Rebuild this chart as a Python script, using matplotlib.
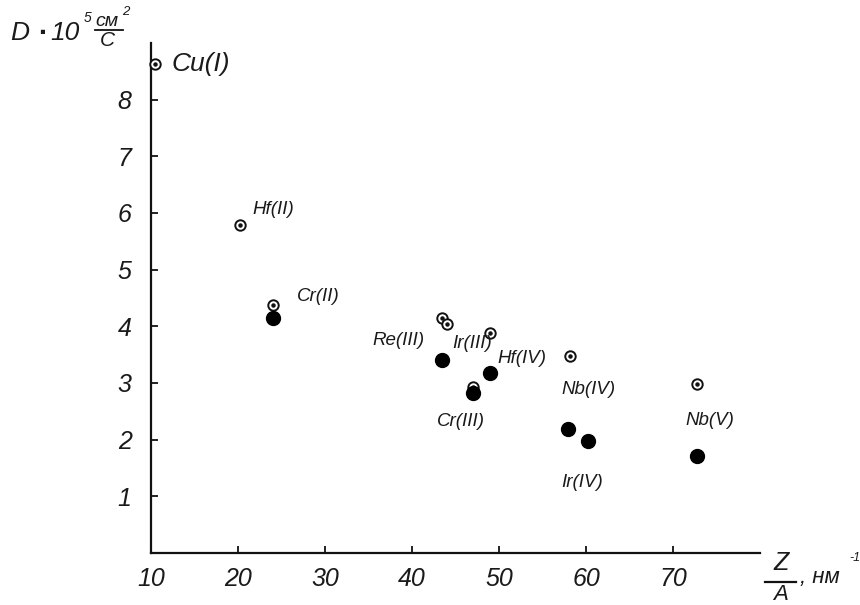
import matplotlib
matplotlib.use("Agg")
import matplotlib.pyplot as plt

# ---- data ----
open_x = [10.5, 20.2, 24.0, 43.4, 44.0, 49.0, 47.0, 58.2, 72.8]
open_y = [8.63, 5.79, 4.37, 4.14, 4.04, 3.89, 2.93, 3.47, 2.98]
filled_x = [24.0, 43.4, 49.0, 47.0, 57.9, 60.2, 72.8]
filled_y = [4.14, 3.40, 3.18, 2.82, 2.18, 1.98, 1.72]
label_text = ["Hf(II)", "Cr(II)", "Re(III)", "Ir(III)", "Hf(IV)", "Cr(III)", "Nb(IV)", "Ir(IV)", "Nb(V)"]
label_x = [21.7, 26.8, 35.4, 44.6, 49.8, 42.9, 57.2, 57.2, 71.4]
label_y = [6.07, 4.53, 3.75, 3.70, 3.44, 2.32, 2.89, 1.25, 2.33]
big_label = "Cu(I)"
big_label_xy = (12.4, 8.63)
x_ticks = [10, 20, 30, 40, 50, 60, 70]
y_ticks = [1, 2, 3, 4, 5, 6, 7, 8]

W, H = 860, 605
FAM = ["Liberation Sans", "DejaVu Sans"]
TXT = "#1a1a1a"

fig = plt.figure(figsize=(W / 100, H / 100), dpi=100)
left_px, right_px, top_px, bot_px = 151, 760, 43, 553
ax = fig.add_axes([left_px / W, 1 - bot_px / H, (right_px - left_px) / W, (bot_px - top_px) / H])
ax.set_xlim(10, 80)
ax.set_ylim(0, 9)
for s in ("top", "right"):
    ax.spines[s].set_visible(False)
for s in ("left", "bottom"):
    ax.spines[s].set_linewidth(1.6)
    ax.spines[s].set_color("#111111")
ax.set_xticks(x_ticks)
ax.set_yticks(y_ticks)
ax.tick_params(axis="both", direction="in", length=5, width=1.3, colors="#111111",
               labelsize=18, labelcolor=TXT)
ax.tick_params(axis="x", pad=10)
ax.tick_params(axis="y", pad=14)
for lab in ax.get_xticklabels() + ax.get_yticklabels():
    lab.set_fontstyle("italic")
    lab.set_family(FAM)

# points
ax.plot(open_x, open_y, linestyle="none", marker="o", markersize=7.5,
        markerfacecolor="white", markeredgecolor="#111111", markeredgewidth=1.4,
        clip_on=False, zorder=3)
ax.plot(open_x, open_y, linestyle="none", marker="o", markersize=2.2,
        markerfacecolor="#111111", markeredgecolor="#111111", clip_on=False, zorder=3)
ax.plot(filled_x, filled_y, linestyle="none", marker="o", markersize=10,
        markerfacecolor="black", markeredgecolor="black", clip_on=False, zorder=4)

for t, x, y in zip(label_text, label_x, label_y):
    ax.text(x, y, t, fontsize=13.5, style="italic", family=FAM, color=TXT,
            ha="left", va="center")
ax.text(big_label_xy[0], big_label_xy[1], big_label, fontsize=19, style="italic",
        family=FAM, color=TXT, ha="left", va="center")


def ftext(px, py, s, size, **kw):
    fig.text(px / W, 1 - py / H, s, fontsize=size, style="italic", family=FAM,
             color=TXT, **kw)


# y-axis label: D ▪ 10^5 см²/С
ftext(10, 33, "D", 19, ha="left", va="center")
ftext(42, 33, "▪", 12, ha="center", va="center")
ftext(50, 33, "10", 19, ha="left", va="center")
ftext(84, 18, "5", 10, ha="left", va="center")
ftext(95, 22, "см", 14, ha="left", va="center")
ftext(122, 12, "2", 9.5, ha="left", va="center")
fig.add_artist(plt.Line2D([95 / W, 123 / W], [1 - 30 / H, 1 - 30 / H],
                          color="#111111", linewidth=1.3))
ftext(107, 40, "С", 15, ha="center", va="center")

# x-axis label: Z/A , нм^-1
ftext(781, 563, "Z", 18, ha="center", va="center")
fig.add_artist(plt.Line2D([765 / W, 796 / W], [1 - 582 / H, 1 - 582 / H],
                          color="#111111", linewidth=1.6))
ftext(781, 594, "A", 16, ha="center", va="center")
ftext(800, 578, ", нм", 16, ha="left", va="center")
ftext(849, 558, "-1", 9, ha="left", va="center")

fig.savefig("out.png", dpi=100)
